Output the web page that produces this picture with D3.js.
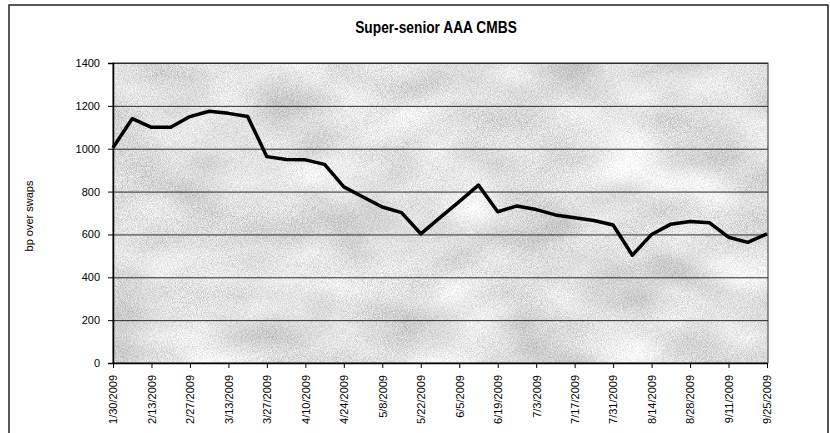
<!DOCTYPE html>
<html>
<head>
<meta charset="utf-8">
<script src="https://cdn.jsdelivr.net/npm/d3@7"></script>
<style>
  body { margin: 0; background: #fff; }
  text { font-family: "Liberation Sans Narrow", "Arial Narrow", "Liberation Sans", sans-serif; fill: #000; }
</style>
</head>
<body>
<div id="chart"></div>
<script>
// weekly observations
const dates = [
    '1/30/2009', '2/6/2009', '2/13/2009', '2/20/2009', '2/27/2009', '3/6/2009', '3/13/2009',
    '3/20/2009', '3/27/2009', '4/3/2009', '4/10/2009', '4/17/2009', '4/24/2009', '5/1/2009',
    '5/8/2009', '5/15/2009', '5/22/2009', '5/29/2009', '6/5/2009', '6/12/2009', '6/19/2009',
    '6/26/2009', '7/3/2009', '7/10/2009', '7/17/2009', '7/24/2009', '7/31/2009', '8/7/2009',
    '8/14/2009', '8/21/2009', '8/28/2009', '9/4/2009', '9/11/2009', '9/18/2009', '9/25/2009'
];
const spreads = [
    1005, 1140, 1100, 1100, 1150, 1175, 1165,
    1150, 963, 950, 948, 927, 822, 775,
    728, 702, 603, 678, 753, 830, 706,
    733, 716, 691, 678, 665, 644, 503,
    600, 648, 660, 655, 587, 563, 603
];
const xTickLabels = [
    '1/30/2009', '2/13/2009', '2/27/2009', '3/13/2009', '3/27/2009', '4/10/2009',
    '4/24/2009', '5/8/2009', '5/22/2009', '6/5/2009', '6/19/2009', '7/3/2009',
    '7/17/2009', '7/31/2009', '8/14/2009', '8/28/2009', '9/11/2009', '9/25/2009'
];
const yTicks = [0, 200, 400, 600, 800, 1000, 1200, 1400];

const W = 830, H = 433;
const plot = { left: 113, right: 768, top: 63, bottom: 363 };

const svg = d3.select('#chart')
    .append('svg')
    .attr('width', W)
    .attr('height', H);

// grainy, blotchy grey like the scanned plot area
const defs = svg.append('defs');
const mottle = defs.append('filter')
    .attr('id', 'mottle')
    .attr('x', 0).attr('y', 0).attr('width', 1).attr('height', 1);
mottle.append('feTurbulence')
    .attr('type', 'fractalNoise')
    .attr('baseFrequency', '0.012 0.02')
    .attr('numOctaves', 2)
    .attr('seed', 7)
    .attr('result', 'blotch');
mottle.append('feTurbulence')
    .attr('type', 'fractalNoise')
    .attr('baseFrequency', 1.2)
    .attr('numOctaves', 1)
    .attr('seed', 3)
    .attr('result', 'grain');
mottle.append('feComposite')
    .attr('in', 'blotch')
    .attr('in2', 'grain')
    .attr('operator', 'arithmetic')
    .attr('k2', 0.45)
    .attr('k3', 0.55)
    .attr('result', 'mix');
mottle.append('feColorMatrix')
    .attr('in', 'mix')
    .attr('type', 'matrix')
    .attr('values', '1.3 0 0 0 0.1  1.3 0 0 0 0.1  1.3 0 0 0 0.1  0 0 0 0 1')
    .attr('result', 'grey');
mottle.append('feComposite')
    .attr('in', 'grey')
    .attr('in2', 'SourceAlpha')
    .attr('operator', 'in');

// outer chart frame
svg.append('path')
    .attr('d', `M9,${H + 2} V5 H828 V${H + 2}`)
    .attr('fill', 'none')
    .attr('stroke', '#222')
    .attr('stroke-width', 1.5);

const x = d3.scalePoint()
    .domain(dates)
    .range([plot.left, 767]);

const y = d3.scaleLinear()
    .domain([0, 1400])
    .range([plot.bottom, plot.top]);

// plot area
svg.append('rect')
    .attr('x', plot.left)
    .attr('y', plot.top)
    .attr('width', plot.right - plot.left)
    .attr('height', plot.bottom - plot.top)
    .attr('fill', '#c0c0c0')
    .attr('filter', 'url(#mottle)');

svg.append('rect')
    .attr('x', plot.left)
    .attr('y', plot.top)
    .attr('width', plot.right - plot.left)
    .attr('height', plot.bottom - plot.top)
    .attr('fill', 'none')
    .attr('stroke', '#333')
    .attr('stroke-width', 1);

// grid
svg.append('g')
    .selectAll('line')
    .data(yTicks)
    .join('line')
    .attr('x1', plot.left)
    .attr('x2', plot.right)
    .attr('y1', d => y(d) + 0.5)
    .attr('y2', d => y(d) + 0.5)
    .attr('stroke', '#2a2a2a')
    .attr('stroke-width', 1);

// y axis
const yAxis = svg.append('g')
    .attr('transform', `translate(${plot.left},0)`)
    .call(d3.axisLeft(y).tickValues(yTicks).tickSize(5).tickPadding(8).tickFormat(d3.format('d')));
yAxis.select('.domain').attr('stroke', '#000').attr('stroke-width', 1.5);
yAxis.selectAll('.tick line').attr('stroke', '#000');
yAxis.selectAll('text').attr('font-size', 11);

// x axis
const xAxis = svg.append('g')
    .attr('transform', `translate(0,${plot.bottom})`)
    .call(d3.axisBottom(x).tickValues(xTickLabels).tickSize(5).tickSizeOuter(0));
xAxis.select('.domain').attr('stroke', '#000').attr('stroke-width', 1.5);
xAxis.selectAll('.tick line').attr('stroke', '#000');
xAxis.selectAll('text')
    .attr('font-size', 11)
    .attr('transform', 'rotate(-90)')
    .attr('text-anchor', 'end')
    .attr('x', -12)
    .attr('y', 0)
    .attr('dy', '0.35em');

// line
const line = d3.line()
    .x((d, i) => x(dates[i]))
    .y(d => y(d));

svg.append('path')
    .datum(spreads)
    .attr('d', line)
    .attr('fill', 'none')
    .attr('stroke', '#000')
    .attr('stroke-width', 3.5)
    .attr('stroke-linejoin', 'round');

// title, condensed to match the narrow face
svg.append('text')
    .attr('transform', 'translate(436,33) scale(0.86,1)')
    .attr('text-anchor', 'middle')
    .attr('font-size', 16)
    .attr('font-weight', 'bold')
    .text('Super-senior AAA CMBS');

// y label
svg.append('text')
    .attr('transform', `translate(33,${(plot.top + plot.bottom) / 2 + 3}) rotate(-90)`)
    .attr('text-anchor', 'middle')
    .attr('font-size', 11)
    .text('bp over swaps');
</script>
</body>
</html>
